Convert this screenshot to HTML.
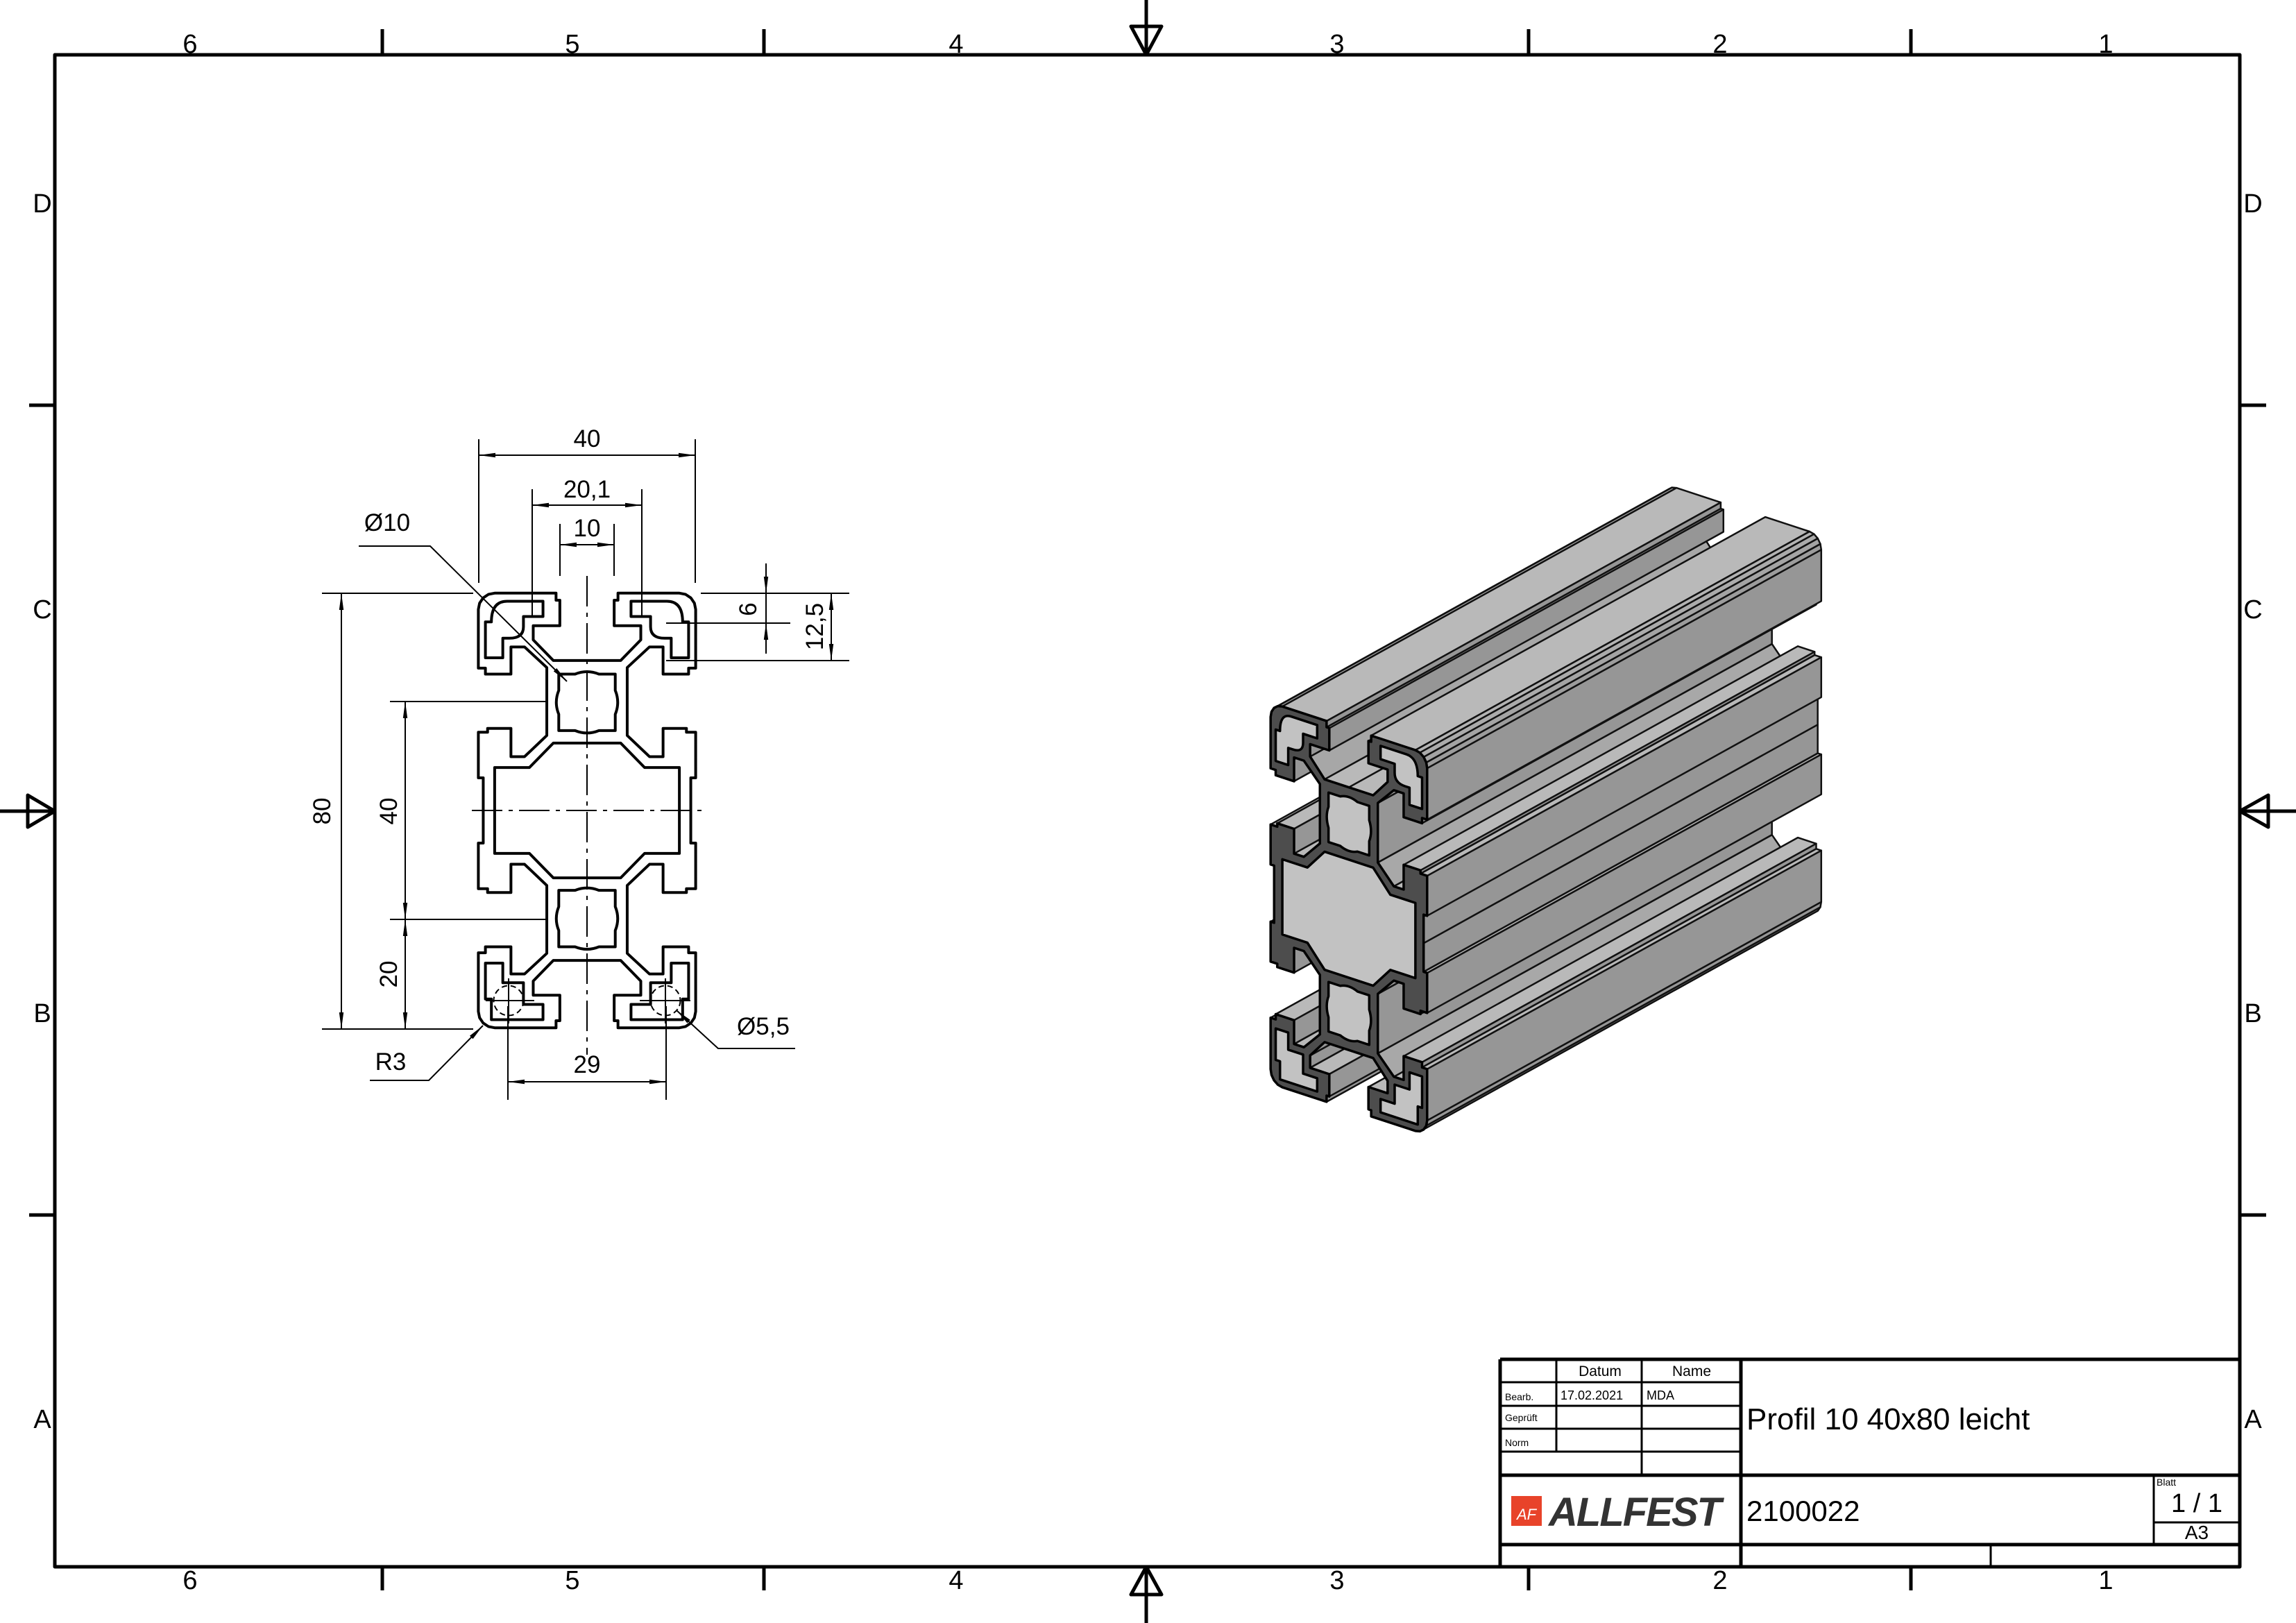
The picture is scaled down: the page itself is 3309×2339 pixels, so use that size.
<!DOCTYPE html>
<html><head><meta charset="utf-8">
<style>
html,body{margin:0;padding:0;background:#fff;}
svg{display:block;}
text{font-family:"Liberation Sans Narrow","Liberation Sans",sans-serif;fill:#000;}
</style></head>
<body>
<svg id="s" xmlns="http://www.w3.org/2000/svg" width="3309" height="2339" viewBox="0 0 3309 2339">
<defs>
<marker id="a" viewBox="0 0 24 8" refX="24" refY="4" markerWidth="24" markerHeight="8" markerUnits="userSpaceOnUse" orient="auto"><path d="M0,0.8 L24,4 L0,7.2 Z" fill="#000"/></marker>
<marker id="b" viewBox="0 0 24 8" refX="0" refY="4" markerWidth="24" markerHeight="8" markerUnits="userSpaceOnUse" orient="auto"><path d="M24,0.8 L0,4 L24,7.2 Z" fill="#000"/></marker>
</defs>
<rect width="3309" height="2339" fill="#fff"/>
<g stroke="#000" stroke-width="5" fill="none" stroke-linejoin="round">
<rect x="79" y="79" width="3149" height="2179"/>
<path d="M551,42V79 M1101,42V79 M2203,42V79 M2754,42V79 M551,2258V2292 M1101,2258V2292 M2203,2258V2292 M2754,2258V2292 M42,584H79 M42,1751H79 M3228,584H3266 M3228,1751H3266"/>
<path d="M1652,0V79 M1630,38H1674L1652,79Z M1652,2339V2258 M1630,2298H1674L1652,2258Z M0,1169H79 M40,1146V1192L79,1169Z M3309,1169H3228 M3269,1146V1192L3228,1169Z"/>
</g>
<g font-size="38" text-anchor="middle">
<text x="274" y="76">6</text><text x="825" y="76">5</text><text x="1378" y="76">4</text><text x="1927" y="76">3</text><text x="2479" y="76">2</text><text x="3035" y="76">1</text>
<text x="274" y="2290">6</text><text x="825" y="2290">5</text><text x="1378" y="2290">4</text><text x="1927" y="2290">3</text><text x="2479" y="2290">2</text><text x="3035" y="2290">1</text>
<text x="61" y="306">D</text><text x="61" y="891">C</text><text x="61" y="1473">B</text><text x="61" y="2058">A</text>
<text x="3247" y="306">D</text><text x="3247" y="891">C</text><text x="3247" y="1473">B</text><text x="3247" y="2058">A</text>
</g>

<g id="prof2d" transform="translate(846,1168) scale(7.83)" fill="none" stroke="#000" stroke-width="4" stroke-linejoin="round"></g>
<g stroke="#000" stroke-width="2" fill="none">
<path d="M846,830V1520" stroke-dasharray="44,9,6,9"/>
<path d="M680,1168H1015" stroke-dasharray="44,9,6,9"/>
<circle cx="733" cy="1442" r="21.5" stroke-dasharray="8,5"/>
<circle cx="959" cy="1442" r="21.5" stroke-dasharray="8,5"/>
<path d="M700,1442H770 M922,1442H995 M733,1410V1475 M959,1410V1475"/>
<path d="M690,633V840 M1002,633V840 M767,705V889 M925,705V889 M807,755V830 M885,755V830"/>
<path d="M1010,855H1224 M960,898H1139 M960,952H1224"/>
<path d="M464,855H682 M464,1483H682 M562,1011H790 M562,1325H790"/>
<path d="M732,1450V1585 M960,1450V1585"/>
<path d="M690,656H1002" marker-start="url(#b)" marker-end="url(#a)"/>
<path d="M767,728H925" marker-start="url(#b)" marker-end="url(#a)"/>
<path d="M807,785H885" marker-start="url(#b)" marker-end="url(#a)"/>
<path d="M1104,812V855" marker-end="url(#a)"/>
<path d="M1104,942V898" marker-end="url(#a)"/>
<path d="M1104,855V898"/>
<path d="M1198,855V952" marker-start="url(#b)" marker-end="url(#a)"/>
<path d="M492,855V1483" marker-start="url(#b)" marker-end="url(#a)"/>
<path d="M584,1011V1325" marker-start="url(#b)" marker-end="url(#a)"/>
<path d="M584,1325V1483" marker-start="url(#b)" marker-end="url(#a)"/>
<path d="M732,1559H960" marker-start="url(#b)" marker-end="url(#a)"/>
<path d="M517,787H620L817,982" marker-end="url(#a)"/>
<path d="M533,1557H618L696,1478" marker-end="url(#a)"/>
<path d="M1146,1511H1035L975,1456" marker-end="url(#a)"/>
</g>
<g font-size="35" text-anchor="middle">
<text x="846" y="644">40</text>
<text x="846" y="717">20,1</text>
<text x="846" y="773">10</text>
<text x="558" y="765">Ø10</text>
<text x="563" y="1542">R3</text>
<text x="1100" y="1491">Ø5,5</text>
<text x="846" y="1546">29</text>
<text transform="translate(1090,878) rotate(-90)">6</text>
<text transform="translate(1186,903) rotate(-90)">12,5</text>
<text transform="translate(476,1169) rotate(-90)">80</text>
<text transform="translate(572,1169) rotate(-90)">40</text>
<text transform="translate(572,1404) rotate(-90)">20</text>
</g>

<g id="iso"></g>

<g stroke="#000" fill="none">
<path stroke-width="5" d="M2162,1959H3228 M2162,1959V2258 M2509,1959V2258 M2162,2126H3228 M2162,2226H3228"/>
<path stroke-width="3" d="M2162,1992H2509 M2162,2026H2509 M2162,2059H2509 M2162,2092H2509 M2243,1959V2092 M2366,1959V2126 M3104,2126V2226 M3104,2194H3228 M2869,2226V2258"/>
</g>
<g font-size="21">
<text x="2306" y="1983" text-anchor="middle">Datum</text>
<text x="2438" y="1983" text-anchor="middle">Name</text>
<text x="2249" y="2017" font-size="18">17.02.2021</text>
<text x="2373" y="2017" font-size="18">MDA</text>
<text x="2169" y="2018" font-size="14">Bearb.</text>
<text x="2169" y="2048" font-size="14">Geprüft</text>
<text x="2169" y="2084" font-size="14">Norm</text>
<text x="3108" y="2141" font-size="14">Blatt</text>
</g>
<text x="2517" y="2060" font-size="44">Profil 10 40x80 leicht</text>
<text x="2517" y="2192" font-size="42">2100022</text>
<text x="3166" y="2179" font-size="38" text-anchor="middle">1 / 1</text>
<text x="3166" y="2218" font-size="28" text-anchor="middle">A3</text>
<rect x="2178" y="2156" width="44" height="43" fill="#e8432a"/>
<text x="2200" y="2190" font-size="22" text-anchor="middle" font-style="italic" style="fill:#fff">AF</text>
<text x="2232" y="2199" font-size="58" font-weight="bold" font-style="italic" letter-spacing="-2" style="fill:#333;font-family:'Liberation Sans',sans-serif">ALLFEST</text>
</svg>
<script>
(function(){
var NS="http://www.w3.org/2000/svg";
function arc(cx,cy,r,a0,a1,n){var p=[];for(var i=0;i<=n;i++){var a=(a0+(a1-a0)*i/n)*Math.PI/180;p.push([cx+r*Math.cos(a),cy+r*Math.sin(a)]);}return p;}
var TL=[[0,-27.6],[-6.2,-27.6],[-9.9,-31.4],[-9.9,-34],[-5,-34],[-5,-38.7],[-5.7,-38.7],[-5.7,-40]]
 .concat(arc(-17,-37,3,-90,-180,4))
 .concat([[-20,-26.2],[-18.7,-26.2],[-18.7,-25.1],[-14,-25.1],[-14,-30.1],[-11.5,-30.1],[-7.4,-26.3],[-7.4,-13.8],[-11.5,-9.9],[-14,-9.9],[-14,-15.1],[-18.3,-15.1],[-18.3,-14.4],[-20,-14.4],[-20,-6],[-19.1,-6],[-19.1,0]]);
var outer=[];
TL.forEach(function(p){outer.push([p[0],p[1]]);});
TL.slice().reverse().slice(1).forEach(function(p){outer.push([p[0],-p[1]]);});
TL.slice(1).forEach(function(p){outer.push([-p[0],-p[1]]);});
TL.slice().reverse().slice(1,-1).forEach(function(p){outer.push([-p[0],p[1]]);});
var o2=[];outer.forEach(function(p){var l=o2[o2.length-1];if(!l||Math.abs(l[0]-p[0])>1e-6||Math.abs(l[1]-p[1])>1e-6)o2.push(p);});outer=o2;

function poly(pts,f){f=f||function(p){return p;};return "M"+pts.map(function(p){var q=f(p);return q[0].toFixed(2)+","+q[1].toFixed(2);}).join("L")+"Z";}
function corner(sx,sy,arcs){
 var m=function(x,y){return [x*sx,y*sy];};
 var segs=[["M",m(-18.7,-34.7)],["L",m(-17.6,-34.7)]];
 if(arcs)segs.push(["Q",m(-17.6,-38.5),m(-14.7,-38.5)]);else segs.push(["L",m(-17.6,-38.5)]);
 segs.push(["L",m(-8.1,-38.5)],["L",m(-8.1,-35.7)],["L",m(-11.7,-35.7)],["L",m(-11.7,-33.8)]);
 if(arcs)segs.push(["Q",m(-11.7,-31.7),m(-14.3,-31.7)]);else segs.push(["L",m(-11.7,-31.7)]);
 segs.push(["L",m(-15.5,-31.7)],["L",m(-15.5,-28.1)],["L",m(-18.7,-28.1)]);
 return segs;
}
function core(cy){
 var h=5.2,c=2.2,b=6.1;var m=function(x,y){return [x,y+cy];};
 return [["M",m(-h,-h)],["L",m(-c,-h)],["Q",m(0,-b),m(c,-h)],["L",m(h,-h)],["L",m(h,-c)],["Q",m(b,0),m(h,c)],["L",m(h,h)],["L",m(c,h)],["Q",m(0,b),m(-c,h)],["L",m(-h,h)],["L",m(-h,c)],["Q",m(-b,0),m(-h,-c)]];
}
var central=[[-6.2,-12.4],[-10.6,-7.9],[-17,-7.9],[-17,7.9],[-10.6,7.9],[-6.2,12.4],[6.2,12.4],[10.6,7.9],[17,7.9],[17,-7.9],[10.6,-7.9],[6.2,-12.4]];
function segPath(segs,f){f=f||function(p){return p;};var s="";segs.forEach(function(g){s+=g[0];for(var i=1;i<g.length;i++){var q=f(g[i]);s+=q[0].toFixed(2)+","+q[1].toFixed(2)+" ";}});return s+"Z";}
var holes=[corner(1,1,true),corner(-1,1,true),corner(1,-1,false),corner(-1,-1,false),core(-19.9),core(19.9)];
function holesPath(f){var s=poly(central,f);holes.forEach(function(h){s+=segPath(h,f);});return s;}

var g2=document.getElementById("prof2d");
var pth=document.createElementNS(NS,"path");
pth.setAttribute("d",poly(outer)+holesPath());
pth.setAttribute("vector-effect","non-scaling-stroke");
g2.appendChild(pth);

var iso=document.getElementById("iso");
function M(p){return [1944+5.64*p[0],1324+1.85*p[0]+6.86*p[1]];}
var E=[568,-315];
function inside(pt,pg){var c=false;for(var i=0,j=pg.length-1;i<pg.length;j=i++){var a=pg[i],b=pg[j];if(((a[1]>pt[1])!=(b[1]>pt[1]))&&(pt[0]<(b[0]-a[0])*(pt[1]-a[1])/(b[1]-a[1])+a[0]))c=!c;}return c;}
var faces=[];
for(var i=0;i<outer.length;i++){
 var p1=outer[i],p2=outer[(i+1)%outer.length];
 var dx=p2[0]-p1[0],dy=p2[1]-p1[1],L=Math.hypot(dx,dy);if(L<1e-6)continue;
 var nx=dy/L,ny=-dx/L;var mx=(p1[0]+p2[0])/2,my=(p1[1]+p2[1])/2;
 if(inside([mx+nx*0.02,my+ny*0.02],outer)){nx=-nx;ny=-ny;}
 var vis=nx*1-ny*0.82;
 if(vis<=0.001)continue;
 var wx=Math.max(nx,0),wy=Math.max(-ny,0);
 var gr=Math.round((150*wx+185*wy)/(wx+wy));
 faces.push({p1:p1,p2:p2,score:mx-0.82*my,g:gr});
}
faces.sort(function(a,b){return a.score-b.score;});
faces.forEach(function(f){
 var a=M(f.p1),b=M(f.p2);
 var q=[a,b,[b[0]+E[0],b[1]+E[1]],[a[0]+E[0],a[1]+E[1]]];
 var el=document.createElementNS(NS,"path");
 el.setAttribute("d","M"+q.map(function(p){return p[0].toFixed(1)+","+p[1].toFixed(1);}).join("L")+"Z");
 el.setAttribute("fill","rgb("+f.g+","+f.g+","+f.g+")");
 el.setAttribute("stroke","#111");el.setAttribute("stroke-width","2.5");el.setAttribute("stroke-linejoin","round");
 iso.appendChild(el);
});
var hf=document.createElementNS(NS,"path");
hf.setAttribute("d",holesPath(M));hf.setAttribute("fill","#c2c2c2");hf.setAttribute("stroke","none");
iso.appendChild(hf);
var ff=document.createElementNS(NS,"path");
ff.setAttribute("d",poly(outer,M)+holesPath(M));ff.setAttribute("fill","#4d4d4d");ff.setAttribute("fill-rule","evenodd");
ff.setAttribute("stroke","#000");ff.setAttribute("stroke-width","3.5");ff.setAttribute("stroke-linejoin","round");
iso.appendChild(ff);
})();
</script>
</body></html>
